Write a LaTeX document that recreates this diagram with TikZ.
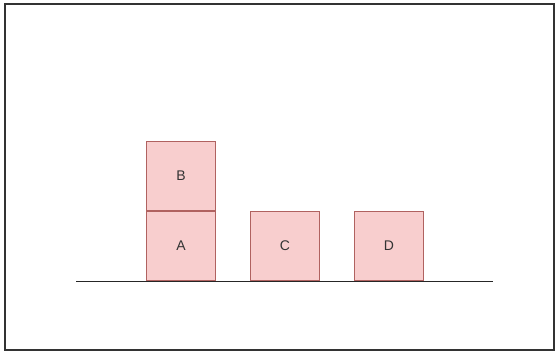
\documentclass[tikz,border=0pt]{standalone}
\usepackage{fontspec}
\setmainfont{Liberation Sans}
\usetikzlibrary{positioning}
\definecolor{blockfill}{RGB}{248,206,206}
\definecolor{blockline}{RGB}{176,98,96}
\begin{document}
\begin{tikzpicture}[x=1pt,y=-1pt,
	block/.style={draw=blockline, fill=blockfill, line width=0.9pt, minimum width=69pt, minimum height=69pt, inner sep=0pt, font=\fontsize{14}{16}\selectfont, text=black!80}]
	\useasboundingbox (0,0) rectangle (559,353);
	\draw[black!80, line width=1.2pt] (5,4) rectangle (554,350);
	% ground
	\coordinate (left) at (76,281);
	\coordinate (right) at (493,281);
	\draw[black!85, line width=1pt] (left) -- (right);
	% blocks
	\node[block, anchor=south west] (A) at (146,281) {A};
	\node[block, anchor=south, yshift=0.45pt] (B) at (A.north) {B};
	\node[block, anchor=south west] (C) at (250,281) {C};
	\node[block, anchor=south west] (D) at (354,281) {D};
\end{tikzpicture}
\end{document}
